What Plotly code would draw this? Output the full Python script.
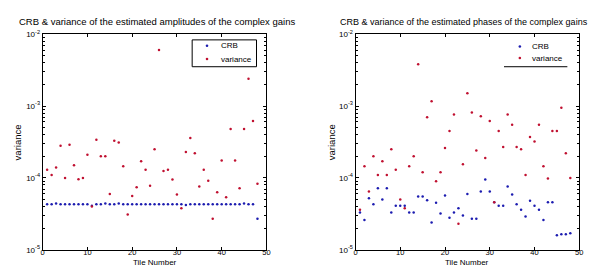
import plotly.graph_objects as go

tiles = list(range(1, 49))

amp_crb = [4.3e-5, 4.3e-5, 4.4e-5, 4.3e-5, 4.3e-5, 4.3e-5, 4.3e-5, 4.3e-5, 4.3e-5, 4.3e-5,
           4.1e-5, 4.3e-5, 4.3e-5, 4.4e-5, 4.3e-5, 4.3e-5, 4.4e-5, 4.3e-5, 4.3e-5, 4.3e-5,
           4.3e-5, 4.3e-5, 4.3e-5, 4.3e-5, 4.3e-5, 4.3e-5, 4.3e-5, 4.3e-5, 4.3e-5, 4.3e-5,
           4.3e-5, 4.2e-5, 4.3e-5, 4.3e-5, 4.3e-5, 4.3e-5, 4.3e-5, 4.3e-5, 4.3e-5, 4.3e-5,
           4.3e-5, 4.3e-5, 4.3e-5, 4.3e-5, 4.4e-5, 4.3e-5, 4.3e-5, 2.7e-5]
amp_var = [1.3e-4, 1.1e-4, 1.4e-4, 2.8e-4, 1.0e-4, 2.9e-4, 1.5e-4, 9.6e-5, 1.0e-4, 2.1e-4,
           4.0e-5, 3.4e-4, 2.0e-4, 2.0e-4, 6.0e-5, 3.3e-4, 3.1e-4, 1.45e-4, 3.1e-5, 5.6e-5,
           7.4e-5, 1.7e-4, 1.3e-4, 7.8e-5, 2.5e-4, 6.0e-3, 1.25e-4, 1.3e-4, 9.5e-5, 5.9e-5,
           3.8e-5, 2.3e-4, 3.6e-4, 2.2e-4, 7.6e-5, 1.3e-4, 9.1e-5, 2.7e-5, 6.3e-5, 1.75e-4,
           5.4e-5, 4.8e-4, 1.75e-4, 7.2e-5, 4.8e-4, 2.4e-3, 6.2e-4, 8.3e-5]

ph_crb = [3.3e-5, 2.6e-5, 5.2e-5, 4.3e-5, 7.2e-5, 5.0e-5, 7.2e-5, 3.3e-5, 4.1e-5, 4.1e-5,
          4.1e-5, 3.3e-5, 3.3e-5, 5.5e-5, 5.5e-5, 4.9e-5, 2.4e-5, 4.5e-5, 3.2e-5, 5.7e-5,
          2.8e-5, 3.3e-5, 3.8e-5, 3.0e-5, 6.0e-5, 2.7e-5, 2.7e-5, 6.5e-5, 9.5e-5, 6.5e-5,
          4.6e-5, 4.1e-5, 4.1e-5, 7.6e-5, 5.9e-5, 4.3e-5, 3.6e-5, 2.9e-5, 4.8e-5, 4.1e-5,
          3.6e-5, 2.6e-5, 4.6e-5, 4.6e-5, 1.6e-5, 1.65e-5, 1.65e-5, 1.7e-5]
ph_var = [3.6e-5, 1.45e-4, 6.5e-5, 2.0e-4, 1.1e-4, 1.7e-4, 1.1e-4, 2.5e-4, 1.3e-4, 5.0e-5,
          3.8e-5, 1.45e-4, 2.0e-4, 3.8e-3, 1.2e-4, 7.0e-4, 1.17e-3, 9.0e-5, 1.2e-4, 2.6e-4,
          4.5e-4, 7.6e-4, 2.3e-5, 1.55e-4, 1.5e-3, 8.1e-4, 2.4e-4, 7.2e-4, 1.9e-4, 6.2e-4,
          4.6e-5, 4.5e-4, 2.7e-4, 7.6e-4, 5.5e-4, 2.7e-4, 2.5e-4, 1.1e-4, 3.7e-4, 3.2e-4,
          5.5e-4, 1.45e-4, 9.8e-5, 4.5e-4, 4.5e-4, 9.5e-4, 2.2e-4, 1.0e-4]

series_names = ["CRB", "variance"]
x_ticks = [0, 10, 20, 30, 40, 50]
y_ticks = [1e-5, 1e-4, 1e-3, 1e-2]
y_ticktext = ["10<sup>-5</sup>", "10<sup>-4</sup>", "10<sup>-3</sup>", "10<sup>-2</sup>"]

titles = ["CRB & variance of the estimated amplitudes of the complex gains",
          "CRB & variance of the estimated phases of the complex gains"]

BLUE = "#1c1cb0"
RED = "#c01030"
COLORS = [BLUE, RED]
FONT = "Liberation Sans, Arial, sans-serif"
MS = 2.5

fig = go.Figure()
for xa, ya, data in [("x", "y", [amp_crb, amp_var]), ("x2", "y2", [ph_crb, ph_var])]:
    for name, col, vals in zip(series_names, COLORS, data):
        fig.add_trace(go.Scatter(x=tiles, y=vals, mode="markers", name=name,
                                 marker=dict(color=col, size=MS), xaxis=xa, yaxis=ya,
                                 showlegend=False))

W, H = 600, 266
ydom = [1 - 246 / H, 1 - 21 / H]

def xax(dom, anchor):
    return dict(domain=dom, anchor=anchor, range=[0, 50], tickvals=x_ticks,
                showline=True, linecolor="black", linewidth=1, mirror="ticks",
                ticks="inside", ticklen=3, tickcolor="black", showgrid=False, zeroline=False,
                ticklabelstandoff=-5,
                tickfont=dict(size=7.5, family=FONT, color="black"))

def yax(anchor):
    return dict(domain=ydom, anchor=anchor, type="log", range=[-5, -2], tickvals=y_ticks,
                ticktext=y_ticktext, showline=True, linecolor="black", linewidth=1,
                mirror="ticks", ticks="inside", ticklen=3, tickcolor="black",
                showgrid=False, zeroline=False,
                tickfont=dict(size=8, family=FONT, color="black"),
                minor=dict(ticks="inside", ticklen=2, tickcolor="black", dtick="D1", showgrid=False))

fig.update_layout(
    width=W, height=H, margin=dict(l=0, r=0, t=0, b=0),
    paper_bgcolor="white", plot_bgcolor="white",
    font=dict(family=FONT, size=9, color="black"),
    xaxis=xax([33 / W, 259 / W], "y"),
    yaxis=yax("x"),
    xaxis2=xax([349 / W, 575 / W], "y2"),
    yaxis2=yax("x2"),
    showlegend=False,
)

def P(px, py):
    return px / W, 1 - py / H

annotations = []
for t, cx, fs in [(titles[0], 148, 9.5), (titles[1], 459, 9)]:
    x, y = P(cx, 8)
    annotations.append(dict(text=t, x=x, y=y, xref="paper", yref="paper", showarrow=False,
                            font=dict(size=fs, family=FONT), xanchor="center", yanchor="middle"))
for cx in [8, 325]:
    x, y = P(cx, 134)
    annotations.append(dict(text="variance", x=x, y=y, xref="paper", yref="paper", textangle=-90,
                            showarrow=False, font=dict(size=9.5, family=FONT),
                            xanchor="center", yanchor="middle"))
for cx in [146, 462]:
    x, y = P(cx, 259.5)
    annotations.append(dict(text="Tile Number", x=x, y=y, xref="paper", yref="paper",
                            showarrow=False, font=dict(size=8, family=FONT),
                            xanchor="center", yanchor="middle", borderpad=0))

# legends: (marker x, text x, row y's)
legend_specs = [(199, 212, [33, 47]), (515, 526, [34, 46])]
for mx, tx, rows in legend_specs:
    for name, col, ry in zip(series_names, COLORS, rows):
        x, y = P(tx, ry)
        annotations.append(dict(text=name, x=x, y=y, xref="paper", yref="paper",
                                showarrow=False, font=dict(size=8, family=FONT),
                                xanchor="left", yanchor="middle", borderpad=0))
        x0, y0 = P(mx - 1.3, ry - 1.3)
        x1, y1 = P(mx + 1.3, ry + 1.3)
        fig.add_shape(type="circle", xref="paper", yref="paper", x0=x0, x1=x1, y0=y0, y1=y1,
                      fillcolor=col, line=dict(width=0))
fig.update_layout(annotations=annotations)

# legend frames
x0, y0 = P(184, 55)
x1, y1 = P(249, 27)
fig.add_shape(type="rect", xref="paper", yref="paper", x0=x0, x1=x1, y0=y0, y1=y1,
              line=dict(color="black", width=1))
x0, y0 = P(499, 55)
x1, _ = P(563, 55)
fig.add_shape(type="line", xref="paper", yref="paper", x0=x0, x1=x1, y0=y0, y1=y0,
              line=dict(color="black", width=1))

fig.write_html("out.html")
